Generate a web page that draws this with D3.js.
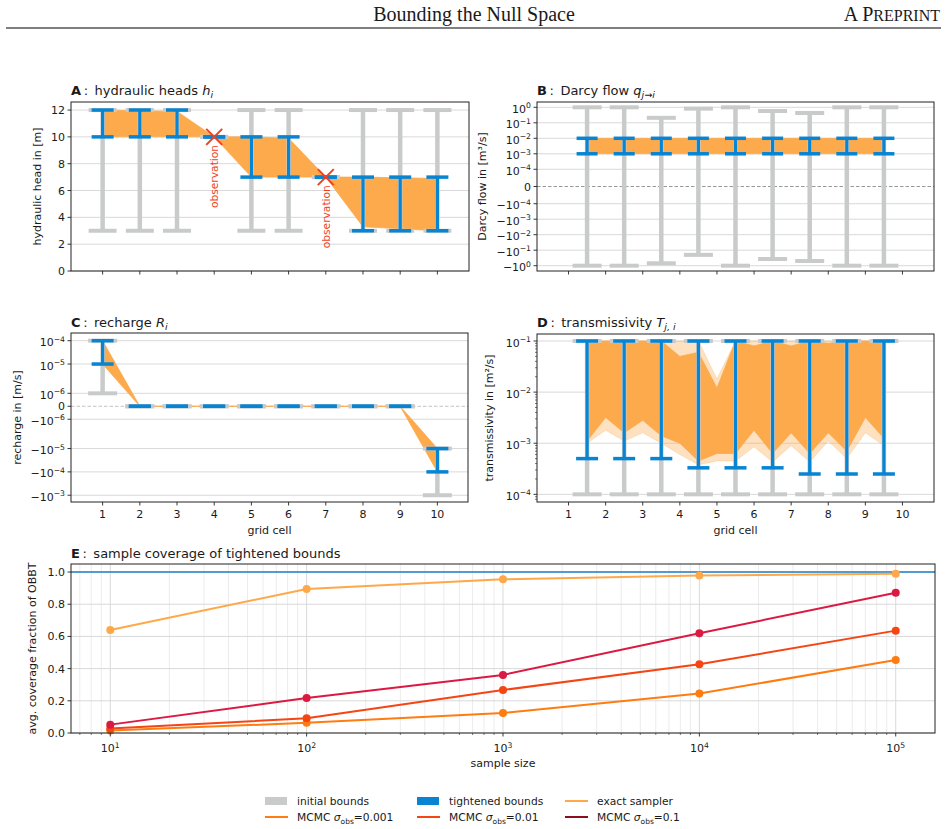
<!DOCTYPE html>
<html>
<head>
<meta charset="utf-8">
<script src="https://cdn.jsdelivr.net/npm/d3@7"></script>
<style>
body { margin: 0; background: #fff; }
svg { display: block; }
text { font-family: "DejaVu Sans", sans-serif; fill: #1a1a1a; }
</style>
</head>
<body>
<script>
// ---- data ----
var cells = [1, 2, 3, 4, 5, 6, 7, 8, 9, 10];
var faces = [1.5, 2.5, 3.5, 4.5, 5.5, 6.5, 7.5, 8.5, 9.5];

// A: hydraulic heads
var headInitLo = [3, 3, 3, 10, 3, 3, 7, 3, 3, 3];
var headInitHi = [12, 12, 12, 10, 12, 12, 7, 12, 12, 12];
var headTightLo = [10, 10, 10, 10, 7, 7, 7, 3, 3, 3];
var headTightHi = [12, 12, 12, 10, 10, 10, 7, 7, 7, 7];
var headSampleLo = [10, 10, 10, 10, 7, 7, 7, 3.3, 3.15, 3.0];
var headSampleHi = [12, 11.95, 11.9, 10, 10, 9.9, 7, 7, 6.95, 6.9];
var obsCells = [4, 7];
var obsHeads = [10, 7];
var headTicks = [0, 2, 4, 6, 8, 10, 12];

// B: Darcy flow
var flowInitLo = [-1, -1, -0.7, -0.2, -1, -0.37, -0.5, -1, -1];
var flowInitHi = [1, 1, 0.21, 0.82, 1, 0.58, 0.43, 1, 1];
var flowTightLo = [1e-3, 1e-3, 1e-3, 1e-3, 1e-3, 1e-3, 1e-3, 1e-3, 1e-3];
var flowTightHi = [1e-2, 1e-2, 1e-2, 1e-2, 1e-2, 1e-2, 1e-2, 1e-2, 1e-2];
var flowSampleLo = [1e-3, 1e-3, 1e-3, 1e-3, 1e-3, 1e-3, 1e-3, 1e-3, 1e-3];
var flowSampleHi = [1e-2, 1e-2, 1e-2, 1e-2, 1e-2, 1e-2, 1e-2, 1e-2, 1e-2];
var flowTicks = [1, 1e-1, 1e-2, 1e-3, 1e-4, 0, -1e-4, -1e-3, -1e-2, -1e-1, -1];

// C: recharge
var rechInitLo = [1e-6, 0, 0, 0, 0, 0, 0, 0, 0, -1e-3];
var rechInitHi = [1e-4, 0, 0, 0, 0, 0, 0, 0, 0, -1e-5];
var rechTightLo = [1e-5, 0, 0, 0, 0, 0, 0, 0, 0, -1e-4];
var rechTightHi = [1e-4, 0, 0, 0, 0, 0, 0, 0, 0, -1e-5];
var rechSampleLo = [1e-5, 0, 0, 0, 0, 0, 0, 0, 0, -1e-4];
var rechSampleHi = [1e-4, 0, 0, 0, 0, 0, 0, 0, 0, -1e-5];
var rechTicks = [1e-4, 1e-5, 1e-6, 0, -1e-6, -1e-5, -1e-4, -1e-3];

// D: transmissivity
var transInitLo = [1e-4, 1e-4, 1e-4, 1e-4, 1e-4, 1e-4, 1e-4, 1e-4, 1e-4];
var transInitHi = [0.1, 0.1, 0.1, 0.1, 0.1, 0.1, 0.1, 0.1, 0.1];
var transTightLo = [5e-4, 5e-4, 5e-4, 3.3e-4, 3.3e-4, 3.3e-4, 2.5e-4, 2.5e-4, 2.5e-4];
var transTightHi = [0.1, 0.1, 0.1, 0.1, 0.1, 0.1, 0.1, 0.1, 0.1];
var transSampleX = [1.5, 2, 2.5, 3, 3.5, 4, 4.5, 5, 5.5, 6, 6.5, 7, 7.5, 8, 8.5, 9, 9.5];
var transDenseLo = [1.1e-3, 3.2e-3, 1.6e-3, 2.8e-3, 1.4e-3, 1.0e-3, 4.5e-4, 6.3e-4, 6.3e-4, 1.8e-3, 6.3e-4, 1.6e-3, 6.3e-4, 1.6e-3, 7e-4, 3.2e-3, 1.25e-3];
var transDenseHi = [0.1, 0.1, 0.1, 0.1, 0.1, 0.05, 0.06, 0.012, 0.1, 0.08, 0.1, 0.08, 0.1, 0.09, 0.1, 0.1, 0.1];
var transFaintLo = [1.0e-3, 1.8e-3, 1.1e-3, 1.6e-3, 1.0e-3, 6e-4, 3.8e-4, 4.5e-4, 4.5e-4, 8.5e-4, 4.3e-4, 9e-4, 4.3e-4, 1.1e-3, 5e-4, 1.6e-3, 9e-4];
var transFaintHi = [0.1, 0.1, 0.1, 0.1, 0.1, 0.1, 0.1, 0.018, 0.1, 0.1, 0.1, 0.1, 0.1, 0.1, 0.1, 0.1, 0.1];
var transTicks = [1e-1, 1e-2, 1e-3, 1e-4];

// E: sample coverage
var sampleSizes = [10, 100, 1000, 10000, 100000];
var exactCov = [0.64, 0.895, 0.955, 0.978, 0.99];
var mcmc001 = [0.016, 0.063, 0.124, 0.245, 0.453];
var mcmc01 = [0.028, 0.091, 0.267, 0.427, 0.636];
var mcmc1 = [0.052, 0.217, 0.361, 0.62, 0.871];
var coverageTicks = [0, 0.2, 0.4, 0.6, 0.8, 1.0];
var sizeTicks = [10, 100, 1000, 10000, 100000];

// ---- styles ----
var cGray = "#c9cbcb", cBlue = "#0784d2", cSample = "#fcaa4c", cObs = "#f2401c";
var cGrid = "#d9d9d9";
var fs = 11; // tick / label font size

var W = 948, H = 829;
var svg = d3.select("body").append("svg").attr("width", W).attr("height", H);

// page header
svg.append("text").attr("x", 474).attr("y", 21).attr("text-anchor", "middle")
    .style("font-family", "'Liberation Serif', serif").attr("font-size", "20px").text("Bounding the Null Space");
var pp = svg.append("text").attr("x", 940).attr("y", 21).attr("text-anchor", "end")
    .style("font-family", "'Liberation Serif', serif").attr("font-size", "20px");
pp.append("tspan").text("A P");
pp.append("tspan").attr("font-size", "16px").text("REPRINT");
svg.append("line").attr("x1", 6).attr("x2", 941).attr("y1", 28).attr("y2", 28)
    .attr("stroke", "#000").attr("stroke-width", 1.2);

// ---- helpers ----
function symlog(L) {
    var c = 1 / (1 - 1 / 10);
    return function(v) {
        var a = Math.abs(v);
        return a <= L ? v / L * c : Math.sign(v) * (c + Math.log10(a / L));
    };
}

function powLabel(t, v) {
    if (v === 0) { t.text("0"); return; }
    var e = Math.round(Math.log10(Math.abs(v)));
    t.append("tspan").text(v < 0 ? "\u221210" : "10");
    t.append("tspan").attr("dy", -4.5).attr("font-size", "7.7px").text(e < 0 ? "\u2212" + (-e) : e);
}

function frame(b) {
    svg.append("rect").attr("x", b.l).attr("y", b.t).attr("width", b.r - b.l).attr("height", b.b - b.t)
        .attr("fill", "none").attr("stroke", "#222").attr("stroke-width", 1);
}

function hGrid(b, ticks, y) {
    svg.append("g").selectAll("line").data(ticks).enter().append("line")
        .attr("x1", b.l).attr("x2", b.r)
        .attr("y1", function(d) { return y(d); }).attr("y2", function(d) { return y(d); })
        .attr("stroke", cGrid).attr("stroke-width", 1);
}

function yTicks(b, ticks, y, pow) {
    var g = svg.append("g");
    g.selectAll("line").data(ticks).enter().append("line")
        .attr("x1", b.l - 3.5).attr("x2", b.l)
        .attr("y1", function(d) { return y(d); }).attr("y2", function(d) { return y(d); })
        .attr("stroke", "#222").attr("stroke-width", 0.9);
    g.selectAll("text").data(ticks).enter().append("text")
        .attr("x", b.l - 6)
        .attr("y", function(d) { return y(d) + (pow && d !== 0 ? 5.5 : 4); })
        .attr("text-anchor", "end").attr("font-size", fs + "px")
        .each(function(d) {
            var t = d3.select(this);
            if (pow) powLabel(t, d); else t.text(pow === false ? d3.format(".1f")(d) : d);
        });
}

function minorYTicks(b, ticks, y) {
    svg.append("g").selectAll("line").data(ticks).enter().append("line")
        .attr("x1", b.l - 2).attr("x2", b.l)
        .attr("y1", function(d) { return y(d); }).attr("y2", function(d) { return y(d); })
        .attr("stroke", "#222").attr("stroke-width", 0.6);
}

function xTicks(b, ticks, x, labels) {
    var g = svg.append("g");
    g.selectAll("line").data(ticks).enter().append("line")
        .attr("x1", function(d) { return x(d); }).attr("x2", function(d) { return x(d); })
        .attr("y1", b.b).attr("y2", b.b + 3.5)
        .attr("stroke", "#222").attr("stroke-width", 0.9);
    if (labels) {
        g.selectAll("text").data(ticks).enter().append("text")
            .attr("x", function(d) { return x(d); }).attr("y", b.b + 16)
            .attr("text-anchor", "middle").attr("font-size", fs + "px")
            .text(function(d) { return d; });
    }
}

function errorBars(xs, lo, hi, x, y, color, lw, capW, capLw) {
    var g = svg.append("g");
    g.selectAll(".v").data(xs).enter().append("line")
        .attr("x1", function(d) { return x(d); }).attr("x2", function(d) { return x(d); })
        .attr("y1", function(d, i) { return y(lo[i]); }).attr("y2", function(d, i) { return y(hi[i]); })
        .attr("stroke", color).attr("stroke-width", lw);
    [lo, hi].forEach(function(arr) {
        g.selectAll(null).data(xs).enter().append("line")
            .attr("x1", function(d) { return x(d) - capW / 2; }).attr("x2", function(d) { return x(d) + capW / 2; })
            .attr("y1", function(d, i) { return y(arr[i]); }).attr("y2", function(d, i) { return y(arr[i]); })
            .attr("stroke", color).attr("stroke-width", capLw);
    });
}

function band(xs, lo, hi, x, y, opacity) {
    var area = d3.area()
        .x(function(d) { return x(d); })
        .y0(function(d, i) { return y(lo[i]); })
        .y1(function(d, i) { return y(hi[i]); });
    svg.append("path").datum(xs).attr("d", area)
        .attr("fill", cSample).attr("fill-opacity", opacity)
        .attr("stroke", cSample).attr("stroke-opacity", opacity).attr("stroke-width", 0.8);
}

function title(b, y, letter, text, sym, sub) {
    var t = svg.append("text").attr("x", b.l).attr("y", y).attr("font-size", "13px");
    t.append("tspan").attr("font-weight", "bold").text(letter);
    t.append("tspan").text("\u2009:\u2002" + text);
    if (sym) {
        t.append("tspan").attr("font-style", "italic").text(sym);
        t.append("tspan").attr("dy", 3).attr("font-size", "9.5px").attr("font-style", "italic").text(sub);
    }
}

function yLabel(x, y, text) {
    svg.append("text").attr("transform", "translate(" + x + "," + y + ") rotate(-90)")
        .attr("text-anchor", "middle").attr("font-size", fs + "px").text(text);
}

function xLabel(x, y, text) {
    svg.append("text").attr("x", x).attr("y", y).attr("text-anchor", "middle")
        .attr("font-size", fs + "px").text(text);
}

function zeroLine(b, y, color) {
    svg.append("line").attr("x1", b.l).attr("x2", b.r).attr("y1", y(0)).attr("y2", y(0))
        .attr("stroke", color).attr("stroke-width", 1).attr("stroke-dasharray", "3.5,2");
}

var boxA = {l: 71, r: 469, t: 102, b: 271};
var boxB = {l: 537, r: 934, t: 102, b: 271};
var boxC = {l: 71, r: 468, t: 333, b: 502};
var boxD = {l: 537, r: 934, t: 334, b: 502};
var boxE = {l: 71, r: 935, t: 564, b: 733};

var xLeft = d3.scaleLinear().domain([0.15, 10.85]).range([boxA.l, boxA.r]);
var xRight = d3.scaleLinear().domain([0.15, 10.85]).range([boxB.l, boxB.r]);

// ---- A ----
var yA = d3.scaleLinear().domain([0, 12.6]).range([boxA.b, boxA.t]);
hGrid(boxA, headTicks, yA);
band(cells, headSampleLo, headSampleHi, xLeft, yA, 1);
errorBars(cells, headInitLo, headInitHi, xLeft, yA, cGray, 4.5, 28, 4);
errorBars(cells, headTightLo, headTightHi, xLeft, yA, cBlue, 3.2, 22, 3.5);
obsCells.forEach(function(c, i) {
    var px = xLeft(c), py = yA(obsHeads[i]);
    svg.append("path").attr("d", "M" + (px - 8) + "," + (py - 8) + "L" + (px + 8) + "," + (py + 8) +
        "M" + (px - 8) + "," + (py + 8) + "L" + (px + 8) + "," + (py - 8))
        .attr("stroke", cObs).attr("stroke-width", 2);
    svg.append("text").attr("transform", "translate(" + (px + 3.8) + "," + (py + 8) + ") rotate(-90)")
        .attr("text-anchor", "end").attr("font-size", "10.7px").style("fill", cObs).text("observation");
});
frame(boxA);
yTicks(boxA, headTicks, yA, null);
xTicks(boxA, cells, xLeft, false);
title(boxA, 95, "A", "hydraulic heads ", "h", "i");
yLabel(41, (boxA.t + boxA.b) / 2, "hydraulic head in [m]");

// ---- B ----
var tB = symlog(1e-4);
var yBlin = d3.scaleLinear().domain([-5.454, 5.454]).range([boxB.b, boxB.t]);
var yB = function(v) { return yBlin(tB(v)); };
hGrid(boxB, flowTicks.filter(function(d) { return d !== 0; }), yB);
zeroLine(boxB, yB, "#999");
band(faces, flowSampleLo, flowSampleHi, xRight, yB, 1);
errorBars(faces, flowInitLo, flowInitHi, xRight, yB, cGray, 4.5, 29, 4);
errorBars(faces, flowTightLo, flowTightHi, xRight, yB, cBlue, 3.2, 21, 3.5);
frame(boxB);
yTicks(boxB, flowTicks, yB, true);
xTicks(boxB, cells, xRight, false);
title(boxB, 95, "B", "Darcy flow ", "q", "j\u2192i");
yLabel(486, (boxB.t + boxB.b) / 2, "Darcy flow in [m\u00b3/s]");

// ---- C ----
var tC = symlog(2e-6);
var yClin = d3.scaleLinear().domain([-4.10, 3.14]).range([boxC.b, boxC.t]);
var yC = function(v) { return yClin(tC(v)); };
hGrid(boxC, rechTicks.filter(function(d) { return d !== 0; }), yC);
zeroLine(boxC, yC, "#c4c4c4");
band(cells, rechSampleLo, rechSampleHi, xLeft, yC, 1);
errorBars(cells, rechInitLo, rechInitHi, xLeft, yC, cGray, 4.5, 29, 4);
errorBars(cells, rechTightLo, rechTightHi, xLeft, yC, cBlue, 3.2, 22, 3.5);
frame(boxC);
yTicks(boxC, rechTicks, yC, true);
xTicks(boxC, cells, xLeft, true);
title(boxC, 327, "C", "recharge ", "R", "i");
yLabel(21, (boxC.t + boxC.b) / 2, "recharge in [m/s]");
xLabel((boxC.l + boxC.r) / 2, 534, "grid cell");

// ---- D ----
var yD = d3.scaleLog().domain([Math.pow(10, -4.15), Math.pow(10, -0.863)]).range([boxD.b, boxD.t]);
hGrid(boxD, transTicks, yD);
band(transSampleX, transFaintLo, transFaintHi, xRight, yD, 0.35);
band(transSampleX, transDenseLo, transDenseHi, xRight, yD, 1);
errorBars(faces, transInitLo, transInitHi, xRight, yD, cGray, 4.5, 29, 4);
errorBars(faces, transTightLo, transTightHi, xRight, yD, cBlue, 3.2, 22, 3.5);
frame(boxD);
var minorD = [];
[1e-5, 1e-4, 1e-3, 1e-2, 1e-1].forEach(function(p) {
    for (var k = 2; k <= 9; k++) {
        var v = p * k;
        if (v > yD.domain()[0] && v < yD.domain()[1]) minorD.push(v);
    }
});
minorYTicks(boxD, minorD, yD);
yTicks(boxD, transTicks, yD, true);
xTicks(boxD, cells, xRight, true);
title(boxD, 327, "D", "transmissivity ", "T", "j, i");
yLabel(493, (boxD.t + boxD.b) / 2, "transmissivity in [m\u00b2/s]");
xLabel((boxD.l + boxD.r) / 2, 534, "grid cell");

// ---- E ----
var xE = d3.scaleLog().domain([Math.pow(10, 0.8), Math.pow(10, 5.2)]).range([boxE.l, boxE.r]);
var yE = d3.scaleLinear().domain([0, 1.05]).range([boxE.b, boxE.t]);
var minorE = [];
[1, 10, 100, 1000, 10000, 100000].forEach(function(p) {
    for (var k = 2; k <= 9; k++) {
        var v = p * k;
        if (v > xE.domain()[0] && v < xE.domain()[1]) minorE.push(v);
    }
});
svg.append("g").selectAll("line").data(minorE).enter().append("line")
    .attr("x1", function(d) { return xE(d); }).attr("x2", function(d) { return xE(d); })
    .attr("y1", boxE.t).attr("y2", boxE.b).attr("stroke", "#ececec").attr("stroke-width", 1);
svg.append("g").selectAll("line").data(sizeTicks).enter().append("line")
    .attr("x1", function(d) { return xE(d); }).attr("x2", function(d) { return xE(d); })
    .attr("y1", boxE.t).attr("y2", boxE.b).attr("stroke", cGrid).attr("stroke-width", 1);
hGrid(boxE, coverageTicks, yE);
svg.append("line").attr("x1", boxE.l).attr("x2", boxE.r).attr("y1", yE(1)).attr("y2", yE(1))
    .attr("stroke", "#1f80c4").attr("stroke-width", 1.5);

var seriesE = [
    {vals: exactCov, color: "#ffa84a"},
    {vals: mcmc001, color: "#ff7c10"},
    {vals: mcmc01, color: "#f44512"},
    {vals: mcmc1, color: "#dc1942"}
];
var lineE = d3.line().x(function(d) { return xE(d[0]); }).y(function(d) { return yE(d[1]); });
seriesE.forEach(function(s) {
    var pts = d3.zip(sampleSizes, s.vals);
    svg.append("path").datum(pts).attr("d", lineE).attr("fill", "none")
        .attr("stroke", s.color).attr("stroke-width", 2);
    svg.append("g").selectAll("circle").data(pts).enter().append("circle")
        .attr("cx", function(d) { return xE(d[0]); }).attr("cy", function(d) { return yE(d[1]); })
        .attr("r", 4).attr("fill", s.color);
});
frame(boxE);
yTicks(boxE, coverageTicks, yE, false);
svg.append("g").selectAll("line").data(minorE).enter().append("line")
    .attr("x1", function(d) { return xE(d); }).attr("x2", function(d) { return xE(d); })
    .attr("y1", boxE.b).attr("y2", boxE.b + 2).attr("stroke", "#222").attr("stroke-width", 0.6);
xTicks(boxE, sizeTicks, xE, false);
svg.append("g").selectAll("text").data(sizeTicks).enter().append("text")
    .attr("x", function(d) { return xE(d); }).attr("y", boxE.b + 19)
    .attr("text-anchor", "middle").attr("font-size", fs + "px")
    .each(function(d) { powLabel(d3.select(this), d); });
title(boxE, 558, "E", "sample coverage of tightened bounds");
yLabel(36, (boxE.t + boxE.b) / 2, "avg. coverage fraction of OBBT");
xLabel((boxE.l + boxE.r) / 2, 767, "sample size");

// ---- legend ----
var leg = svg.append("g");
function legPatch(x, y, color, label) {
    leg.append("rect").attr("x", x).attr("y", y - 4).attr("width", 22).attr("height", 8).attr("fill", color);
    leg.append("text").attr("x", x + 32).attr("y", y + 4).attr("font-size", "10.7px").text(label);
}
function legLine(x, y, color, label, sub) {
    leg.append("line").attr("x1", x).attr("x2", x + 23).attr("y1", y).attr("y2", y)
        .attr("stroke", color).attr("stroke-width", 2);
    var t = leg.append("text").attr("x", x + 32).attr("y", y + 4).attr("font-size", "10.7px");
    if (sub) {
        t.append("tspan").text("MCMC ");
        t.append("tspan").attr("font-style", "italic").text("\u03c3");
        t.append("tspan").attr("dy", 2.5).attr("font-size", "7.5px").text("obs");
        t.append("tspan").attr("dy", -2.5).text("=" + sub);
    } else {
        t.text(label);
    }
}
legPatch(265, 801, cGray, "initial bounds");
legPatch(417, 801, cBlue, "tightened bounds");
legLine(565, 801, "#ffa84a", "exact sampler");
legLine(265, 817, "#ff7c10", null, "0.001");
legLine(417, 817, "#f44512", null, "0.01");
legLine(565, 817, "#8b0d1e", null, "0.1");
</script>
</body>
</html>
